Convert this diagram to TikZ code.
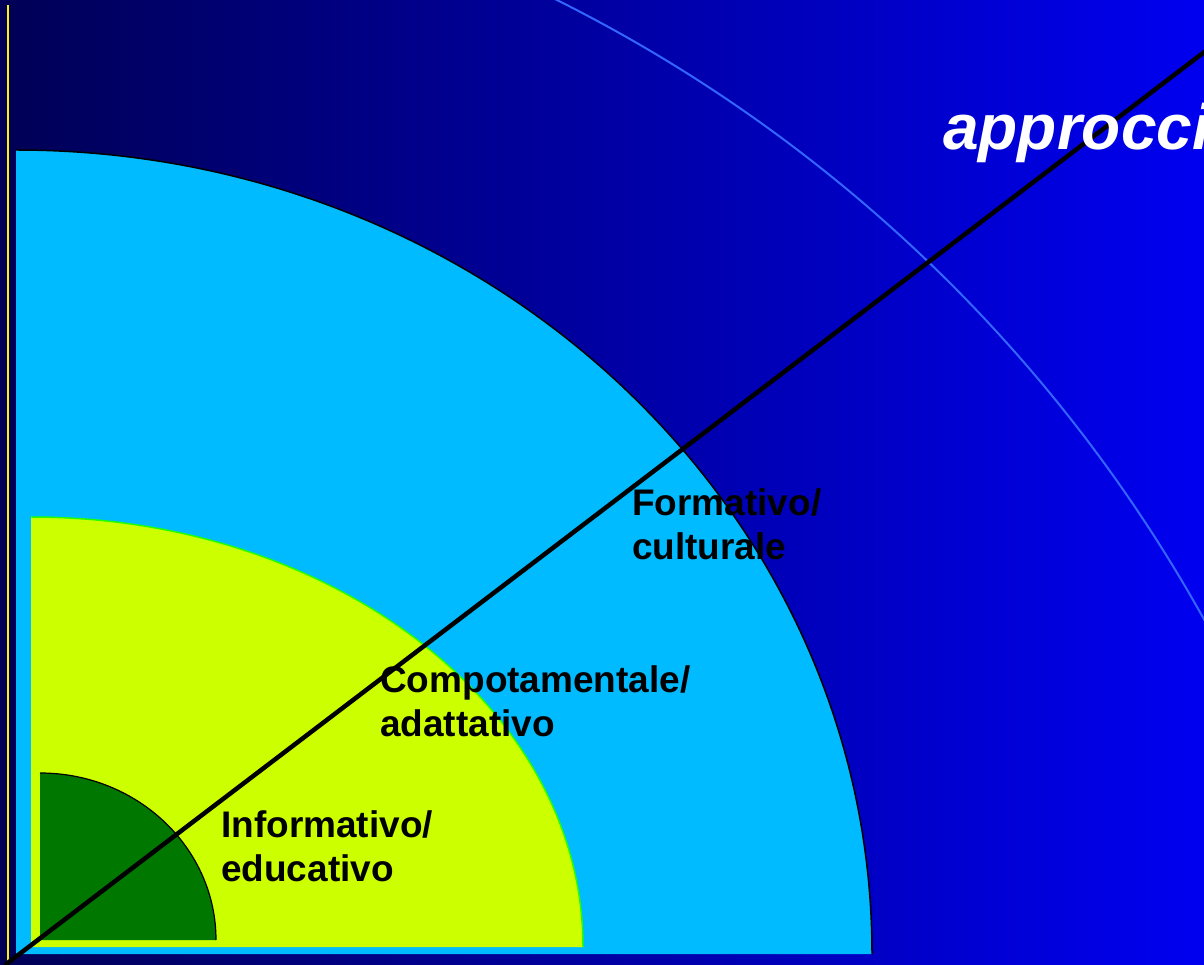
\documentclass[tikz,border=0pt]{standalone}
\usepackage{fontspec}
\setmainfont{Liberation Sans}
\usepackage{xcolor}
\usepackage{tikz}

\definecolor{navy}{HTML}{000055}
\definecolor{midblue}{HTML}{0000B8}
\definecolor{brightblue}{HTML}{0000F0}
\definecolor{skyfill}{HTML}{00BBFF}
\definecolor{limefill}{HTML}{CCFF00}
\definecolor{limeline}{HTML}{22FF00}
\definecolor{greenfill}{HTML}{007800}
\definecolor{ringblue}{HTML}{3366FF}

\tikzset{
  label/.style={anchor=base west,align=left,text=black,
    font=\fontsize{37}{44}\selectfont\bfseries,inner sep=0pt},
}

\begin{document}
\begin{tikzpicture}[x=1pt,y=1pt]
    \useasboundingbox (0,0) rectangle (1204,964);
    \clip (0,0) rectangle (1204,964);
    % background
    \shade[left color=navy,middle color=midblue,right color=brightblue]
      (0,0) rectangle (1204,964);
    \draw[yellow,line width=2pt] (8,0) -- (8,959);
    % outer ring
    \draw[ringblue,line width=2pt] (-121,-392) ++(66:1516) arc[start angle=66,end angle=26,radius=1516];
    % quarters
    \fill[skyfill] (16,10) -- (16,814) arc[start angle=90,end angle=0,x radius=856,y radius=804] -- cycle;
    \draw[black,line width=1.5pt] (16,814) arc[start angle=90,end angle=0,x radius=856,y radius=804];
    \fill[limefill] (31,17) -- (31,447) arc[start angle=90,end angle=0,x radius=552,y radius=430] -- cycle;
    \draw[limeline,line width=1.5pt] (31,447) arc[start angle=90,end angle=0,x radius=552,y radius=430];
    \fill[greenfill] (40,24) -- (40,191) arc[start angle=90,end angle=0,x radius=176,y radius=167] -- cycle;
    \draw[black,line width=1.2pt] (40,191) arc[start angle=90,end angle=0,x radius=176,y radius=167];
    % diagonal
    \coordinate (origin) at (5,-1);
    \coordinate (far) at (1224,927);
    \draw[black,line width=4.5pt] (origin) -- (far);
    % labels (anchored at the baseline of the second line)
    \node[label] (info) at (221,83) {Informativo/\\educativo};
    \node[label] (comp) at (380,227) {Compotamentale/\\adattativo};
    \node[label] (form) at (632,404) {Formativo/\\culturale};
    \node[anchor=base west,inner sep=0pt,text=white,
      font=\fontsize{64}{70}\selectfont\bfseries\itshape] (title) at (943,814) {approcci};
  \end{tikzpicture}
\end{document}
